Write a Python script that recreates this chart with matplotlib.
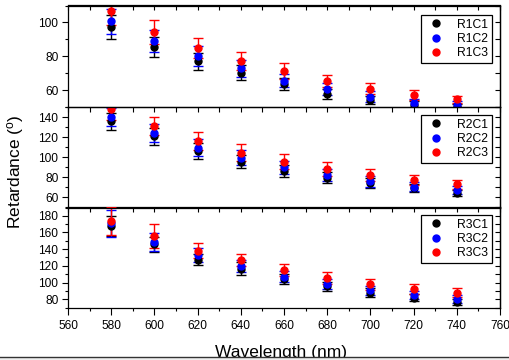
import numpy as np
import matplotlib
matplotlib.use('Agg')
import matplotlib.pyplot as plt
from matplotlib.ticker import MultipleLocator, NullLocator
from matplotlib.transforms import offset_copy
from matplotlib.patches import Rectangle
from matplotlib.lines import Line2D

plt.rcParams['font.family'] = ['Liberation Sans', 'DejaVu Sans']

wavelength = [580, 600, 620, 640, 660, 680, 700, 720, 740]

# row 1
r1c1 = [97.2, 85.6, 77.0, 70.2, 63.6, 57.8, 54.2, 51.0, 50.0]
r1c1_err = [7.0, 6.0, 5.2, 4.5, 3.5, 3.0, 2.5, 2.5, 2.0]
r1c2 = [100.6, 88.8, 80.2, 72.8, 65.6, 60.6, 56.2, 52.2, 51.2]
r1c2_err = [7.5, 6.5, 6.0, 5.0, 4.0, 3.5, 3.0, 2.5, 2.5]
r1c3 = [106.6, 94.2, 84.8, 77.2, 71.2, 65.6, 60.8, 57.2, 54.6]
r1c3_err = [8.0, 7.2, 6.0, 5.4, 4.6, 3.5, 3.4, 2.8, 2.0]

# row 2
r2c1 = [135.7, 120.7, 106.3, 95.7, 86.3, 79.7, 74.0, 69.0, 64.0]
r2c1_err = [8.4, 8.3, 7.7, 6.7, 5.7, 5.7, 5.0, 4.0, 3.0]
r2c2 = [140.0, 124.0, 109.7, 99.7, 90.0, 82.3, 76.3, 70.7, 67.3]
r2c2_err = [9.0, 8.7, 8.3, 7.7, 6.5, 6.0, 5.5, 4.5, 4.0]
r2c3 = [148.0, 130.7, 116.0, 104.7, 95.7, 88.0, 82.3, 77.3, 73.0]
r2c3_err = [11.0, 9.0, 8.7, 8.3, 7.3, 7.0, 5.7, 4.7, 4.3]

# row 3
r3c1 = [167.6, 146.0, 127.6, 116.8, 104.0, 95.6, 88.0, 82.0, 76.8]
r3c1_err = [12.0, 9.0, 7.0, 7.5, 6.0, 5.6, 5.0, 4.0, 4.0]
r3c2 = [170.8, 148.8, 132.8, 119.6, 106.8, 98.8, 90.8, 84.8, 80.0]
r3c2_err = [16.0, 11.0, 8.8, 7.0, 6.5, 6.0, 5.5, 5.0, 4.5]
r3c3 = [174.0, 155.6, 138.0, 126.8, 114.8, 105.6, 98.0, 92.8, 88.0]
r3c3_err = [17.0, 14.0, 9.0, 7.0, 7.0, 7.0, 6.8, 6.0, 5.6]

rows = [
    (['R1C1', 'R1C2', 'R1C3'], [r1c1, r1c2, r1c3], [r1c1_err, r1c2_err, r1c3_err], (50, 110), [60, 80, 100]),
    (['R2C1', 'R2C2', 'R2C3'], [r2c1, r2c2, r2c3], [r2c1_err, r2c2_err, r2c3_err], (50, 150), [60, 80, 100, 120, 140]),
    (['R3C1', 'R3C2', 'R3C3'], [r3c1, r3c2, r3c3], [r3c1_err, r3c2_err, r3c3_err], (70, 190), [80, 100, 120, 140, 160, 180]),
]
colors = ['#000000', '#0000ff', '#ff0000']
gloss = ['#a0a0a0', '#c0c0ff', '#ffc8c8']

W, H = 510, 360
fig = plt.figure(figsize=(W / 100, H / 100), dpi=100)
fig.patch.set_facecolor('white')

left, right = 68, 500
edges = [5.5, 107, 207.5, 307.5]
leg_tops = [15, 115, 215]

for i, (labels, series, errs, ylim, yt) in enumerate(rows):
    top, bot = edges[i], edges[i + 1]
    ax = fig.add_axes([left / W, 1 - bot / H, (right - left) / W, (bot - top) / H])
    tr = offset_copy(ax.transData, fig=fig, x=-0.8, y=0.8, units='points')
    for lab, y, e, c, g in zip(labels, series, errs, colors, gloss):
        ax.errorbar(wavelength, y, yerr=e, fmt='o', color=c, ms=5.0, mec=c,
                    ecolor=c, elinewidth=1, capsize=3.5, capthick=1, label=lab)
        ax.plot(wavelength, y, 'o', ms=2.0, color=g, mec='none', transform=tr)
    ax.set_xlim(560, 760)
    ax.set_ylim(*ylim)
    ax.set_yticks(yt)
    ax.yaxis.set_minor_locator(MultipleLocator(10))
    ax.xaxis.set_major_locator(MultipleLocator(20))
    ax.xaxis.set_minor_locator(MultipleLocator(10))
    ax.tick_params(axis='y', which='major', direction='out', length=4.5, width=0.8,
                   labelsize=8.6, pad=2.5)
    ax.tick_params(axis='y', which='minor', direction='out', length=2.5, width=0.8)
    if i == 2:
        ax.tick_params(axis='x', which='major', direction='out', length=4.8, width=0.8,
                       labelsize=8.6, pad=4)
        ax.tick_params(axis='x', which='minor', direction='out', length=2.5, width=0.8)
    else:
        ax.tick_params(axis='x', which='both', bottom=False, labelbottom=False)
        ax.spines['bottom'].set_visible(False)
    for s in ax.spines.values():
        s.set_linewidth(0.9)

    sx = ax.secondary_xaxis('top')
    sx.xaxis.set_major_locator(MultipleLocator(10))
    sx.xaxis.set_minor_locator(NullLocator())
    sx.tick_params(axis='x', which='both', direction='in', length=3.5, width=0.8, labeltop=False)
    sx.spines['top'].set_linewidth(0.9)
    sy = ax.secondary_yaxis('right')
    sy.yaxis.set_major_locator(MultipleLocator(10))
    sy.yaxis.set_minor_locator(NullLocator())
    sy.tick_params(axis='y', which='both', direction='in', length=3.5, width=0.8, labelright=False)
    sy.spines['right'].set_linewidth(0.9)

    handles = [Line2D([], [], ls='none', marker='o', ms=5.0, color=c) for c in colors]
    ly = 1 - (leg_tops[i] - top) / (bot - top)
    lx = (492 - left) / (right - left)
    leg = ax.legend(handles, labels, loc='upper right', bbox_to_anchor=(lx, ly),
                    borderaxespad=0, fontsize=8.7, frameon=True, fancybox=False,
                    edgecolor='black', framealpha=1, handlelength=2.0,
                    handletextpad=0.75, borderpad=0.3, labelspacing=0.2)
    leg.get_frame().set_linewidth(0.9)

fig.text(16 / W, 1 - 172 / H, 'Retardance ($\\mathregular{^o}$)', rotation=90,
         ha='center', va='center', fontsize=12.5)
fig.text(281 / W, 1 - 357 / H, 'Wavelength (nm)', ha='center', va='baseline', fontsize=12.5)

# page strip cut across the bottom of the picture
fig.add_artist(Rectangle((0, 0), 1, 3.5 / H, transform=fig.transFigure,
                         facecolor='#efefef', edgecolor='none', zorder=20))
fig.add_artist(Line2D([0, 1], [3.5 / H, 3.5 / H], transform=fig.transFigure,
                      color='#333333', lw=1.0, zorder=21))

fig.savefig('out.png', dpi=100)
